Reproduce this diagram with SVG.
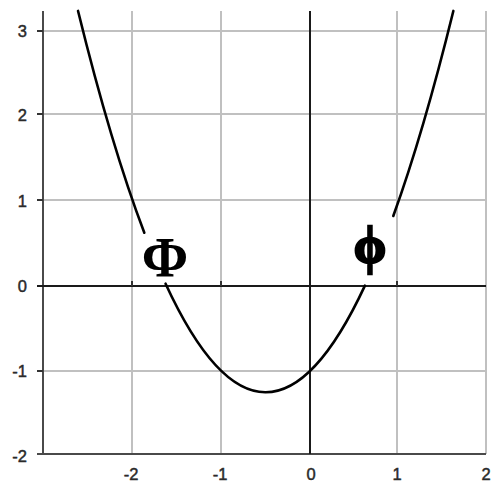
<svg xmlns="http://www.w3.org/2000/svg" width="491" height="484" viewBox="0 0 491 484">
<style>
.grid{stroke:#c0c0c0;stroke-width:2;fill:none}
.frame{stroke:#4a4a4a;stroke-width:2;fill:none}
.axis{stroke:#1a1a1a;stroke-width:2;fill:none}
.tick{stroke:#333;stroke-width:2}
.curve{stroke:#000;stroke-width:2.6;fill:none;stroke-linecap:round}
.lbl{font-family:"Liberation Sans",Arial,sans-serif;font-size:16.5px;fill:#2a2a2a;stroke:#2a2a2a;stroke-width:0.45}
.greek{font-family:"Liberation Serif","Times New Roman",serif;font-weight:bold;fill:#000}
</style>
<rect x="0" y="0" width="491" height="484" fill="#fff"/>
<g id="grid">
<line class="grid" x1="132" y1="11" x2="132" y2="454"/>
<line class="grid" x1="221" y1="11" x2="221" y2="454"/>
<line class="grid" x1="397" y1="11" x2="397" y2="454"/>
<line class="grid" x1="486" y1="11" x2="486" y2="454"/>
<line class="grid" x1="43" y1="31" x2="486" y2="31"/>
<line class="grid" x1="43" y1="114" x2="486" y2="114"/>
<line class="grid" x1="43" y1="200" x2="486" y2="200"/>
<line class="grid" x1="43" y1="371" x2="486" y2="371"/>
</g>
<g id="axes">
<line class="frame" x1="43" y1="11" x2="43" y2="454"/>
<line class="frame" x1="37" y1="454" x2="486" y2="454"/>
<line class="axis" x1="37" y1="286" x2="486" y2="286"/>
<line class="axis" x1="310" y1="11" x2="310" y2="454"/>
<line class="tick" x1="37" y1="31" x2="43" y2="31"/>
<line class="tick" x1="37" y1="114" x2="43" y2="114"/>
<line class="tick" x1="37" y1="200" x2="43" y2="200"/>
<line class="tick" x1="37" y1="371" x2="43" y2="371"/>
<line class="tick" x1="132" y1="281" x2="132" y2="286"/>
<line class="tick" x1="221" y1="281" x2="221" y2="286"/>
<line class="tick" x1="397" y1="281" x2="397" y2="286"/>
</g>
<g id="y-labels">
<text class="lbl" x="27" y="37" text-anchor="end">3</text>
<text class="lbl" x="27" y="121" text-anchor="end">2</text>
<text class="lbl" x="27" y="207" text-anchor="end">1</text>
<text class="lbl" x="27" y="292" text-anchor="end">0</text>
<text class="lbl" x="27" y="377" text-anchor="end">-1</text>
<text class="lbl" x="27" y="462" text-anchor="end">-2</text>
</g>
<g id="x-labels">
<text class="lbl" x="131" y="480" text-anchor="middle">-2</text>
<text class="lbl" x="220" y="480" text-anchor="middle">-1</text>
<text class="lbl" x="311" y="480" text-anchor="middle">0</text>
<text class="lbl" x="397" y="480" text-anchor="middle">1</text>
<text class="lbl" x="486" y="480" text-anchor="middle">2</text>
</g>
<g id="curve">
<path class="curve" d="M78.05,10.94 Q111.18,145.58 144.32,232.71"/>
<path class="curve" d="M165.58,283.71 Q265.26,499.83 364.93,285.63"/>
<path class="curve" d="M393.28,215.99 Q423.32,133.01 453.35,10.94"/>
</g>
<g id="label-Phi">
<text class="greek" x="165" y="277" font-size="56" text-anchor="middle">Φ</text>
</g>
<g id="label-phi">
<text class="greek" x="370" y="263" font-size="52" text-anchor="middle" stroke="#000" stroke-width="2.4">ϕ</text>
</g>
</svg>
